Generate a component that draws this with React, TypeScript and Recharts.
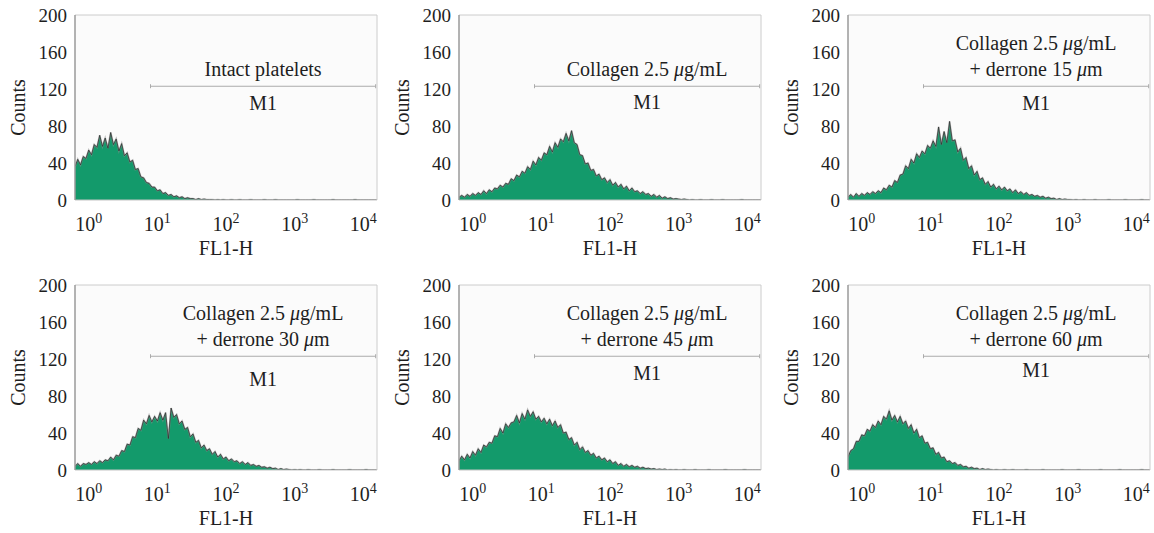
import React from "react";
import { AreaChart, Area, Line, XAxis, YAxis, CartesianGrid, ReferenceLine } from "recharts";

// FL1-H histograms, counts per channel (channel 0..110 across the log axis)
const intactCounts = [
  36, 44, 38, 47, 45, 54, 49, 60, 57, 70,
  58, 67, 56, 73, 60, 66, 53, 61, 48, 51,
  41, 43, 33, 34, 25, 24, 19, 18, 14, 14,
  10, 11, 7, 8, 5, 6, 3.5, 4.5, 2.5, 3.5,
  1.5, 2.5, 1.5, 1.5, 0.5, 1.5, 0.5, 1, 0.5, 0.5,
  0.5, 0, 0.5, 0, 0.5, 0, 0, 0.5, 0, 0,
  0.5, 0, 0, 0, 0.5, 0, 0, 0, 0, 0.5,
  0, 0, 0, 0.5, 0, 0, 0, 0, 0, 0,
  0, 0.5, 0, 0, 0, 0, 0, 0.5, 0, 0,
  0, 0, 0, 0, 0.5, 0, 0, 0, 0, 0,
  0, 0, 0.5, 0, 0, 0, 0, 0, 0, 0, 0,
];

const collagenCounts = [
  3, 5, 3, 6, 4, 7, 5, 8, 6, 10,
  7, 11, 9, 13, 12, 16, 14, 18, 17, 23,
  21, 27, 25, 31, 29, 36, 33, 42, 38, 46,
  43, 51, 49, 58, 52, 62, 57, 66, 63, 72,
  64, 75, 62, 60, 49, 48, 39, 40, 32, 33,
  26, 28, 22, 24, 19, 22, 16, 19, 14, 17,
  12, 15, 10, 13, 9, 10, 7, 9, 6, 7,
  4, 6, 3, 5, 2, 3.5, 1.5, 2.5, 1, 1.5,
  1, 0.5, 1, 0.5, 0, 0.5, 0, 0, 0.5, 0,
  0, 0, 0.5, 0, 0, 0, 0.5, 0, 0, 0,
  0, 0, 0, 0.5, 0, 0, 0, 0, 0, 0, 0,
];

const derrone15Counts = [
  3, 6, 3, 7, 4, 7, 5, 8, 6, 9,
  7, 10, 8, 13, 11, 16, 14, 21, 19, 27,
  28, 37, 34, 44, 40, 50, 46, 53, 50, 59,
  56, 64, 58, 79, 60, 74, 62, 85, 64, 65,
  52, 56, 43, 46, 34, 37, 27, 31, 22, 24,
  17, 20, 14, 17, 12, 15, 11, 14, 10, 12,
  8, 11, 7, 9, 6, 8, 5, 6, 4, 5,
  3, 4, 2, 3, 1.5, 2, 0.5, 1.5, 0.5, 1,
  0.5, 0.5, 0, 0.5, 0, 0, 0.5, 0, 0, 0,
  0.5, 0, 0, 0, 0, 0.5, 0, 0, 0, 0,
  0, 0.5, 0, 0, 0, 0, 0, 0.5, 0, 0, 0,
];

const derrone30Counts = [
  4, 7, 4, 7, 6, 8, 6, 9, 7, 10,
  8, 11, 10, 14, 11, 16, 15, 21, 20, 28,
  27, 36, 35, 45, 43, 54, 50, 59, 52, 58,
  53, 62, 54, 62, 34, 67, 57, 60, 50, 53,
  44, 46, 36, 39, 30, 32, 24, 27, 21, 23,
  17, 20, 14, 17, 12, 14, 10, 12, 9, 10,
  7, 9, 6, 8, 5, 6, 4, 5, 3, 3.5,
  2, 3, 1.5, 2, 0.5, 1.5, 0.5, 1, 0.5, 0,
  0.5, 0, 0.5, 0, 0, 0.5, 0, 0, 0, 0.5,
  0, 0, 0, 0, 0.5, 0, 0, 0, 0, 0,
  0.5, 0, 0, 0, 0, 0, 0.5, 0, 0, 0, 0,
];

const derrone45Counts = [
  10, 15, 11, 17, 13, 20, 16, 23, 19, 27,
  25, 30, 29, 37, 36, 45, 40, 50, 46, 51,
  52, 59, 51, 61, 55, 65, 58, 63, 55, 58,
  52, 56, 50, 55, 48, 53, 46, 49, 40, 41,
  33, 35, 27, 30, 22, 25, 19, 21, 16, 18,
  13, 15, 11, 13, 9, 11, 7, 9, 5, 7,
  4, 6, 3.5, 5, 3, 4, 2, 3, 1.5, 2,
  1, 1.5, 0.5, 1, 0.5, 1, 0, 0.5, 0, 0.5,
  0, 0, 0.5, 0, 0, 0, 0.5, 0, 0, 0,
  0, 0.5, 0, 0, 0, 0, 0, 0.5, 0, 0,
  0, 0, 0, 0, 0.5, 0, 0, 0, 0, 0, 0,
];

const derrone60Counts = [
  14, 21, 23, 31, 31, 38, 37, 44, 42, 49,
  46, 53, 49, 58, 55, 64, 54, 59, 52, 58,
  50, 53, 45, 49, 40, 44, 35, 37, 29, 30,
  23, 24, 17, 19, 13, 14, 9, 10, 7, 8,
  5, 6, 3.5, 4, 2, 3, 1.5, 2, 0.5, 1.5,
  0.5, 1, 0.5, 0, 0.5, 0, 0, 0.5, 0, 0,
  0.5, 0, 0, 0, 0, 0.5, 0, 0, 0, 0,
  0, 0.5, 0, 0, 0, 0, 0, 0, 0.5, 0,
  0, 0, 0, 0, 0.5, 0, 0, 0, 0, 0,
  0, 0, 0.5, 0, 0, 0, 0, 0, 0, 0.5,
  0, 0, 0, 0, 0, 0, 0, 0.5, 0, 0, 0,
];

const panelTitles = [
  ["Intact platelets"],
  ["Collagen 2.5 μg/mL"],
  ["Collagen 2.5 μg/mL", "+ derrone 15 μm"],
  ["Collagen 2.5 μg/mL", "+ derrone 30 μm"],
  ["Collagen 2.5 μg/mL", "+ derrone 45 μm"],
  ["Collagen 2.5 μg/mL", "+ derrone 60 μm"],
];
const panelCounts = [intactCounts, collagenCounts, derrone15Counts, derrone30Counts, derrone45Counts, derrone60Counts];

const yTicks = [0, 40, 80, 120, 160, 200];
const decadeTicks = [5, 30, 55, 80, 105];
const decadeExponents = ["0", "1", "2", "3", "4"];
const markerStart = 27.5;
const markerEnd = 109.5;
const markerLevel = 123;

const FONT = "Liberation Serif, Times New Roman, Tinos, DejaVu Serif, serif";
const GREEN = "#139a6b";
const TEXT = "#1e1e1e";

// panel placement on the page
const panelLayout = [
  { left: 0, top: 0, m1: 17 },
  { left: 384, top: 0, m1: 16 },
  { left: 773, top: 0, m1: 17 },
  { left: 0, top: 270, m1: 23 },
  { left: 384, top: 270, m1: 17 },
  { left: 773, top: 270, m1: 14 },
];

const txt = { fontFamily: FONT };

const richText = (s: string) =>
  s.split("μ").map((part, i) => (
    <React.Fragment key={i}>
      {i > 0 && <tspan fontStyle="italic">μ</tspan>}
      <tspan>{part}</tspan>
    </React.Fragment>
  ));

const DecadeTick = ({ x, y, payload }: any) => {
  const idx = decadeTicks.indexOf(payload.value);
  return (
    <text x={x} y={y + 23} textAnchor="middle" style={txt} fontSize={20} fill={TEXT}>
      <tspan>10</tspan>
      <tspan dy={-8} fontSize={14}>
        {decadeExponents[idx]}
      </tspan>
    </text>
  );
};

const markerShape = (titles: string[], m1Offset: number) => (p: any) => {
  const { x1, x2, y1 } = p;
  const cx = (x1 + x2) / 2;
  return (
    <g>
      {titles.map((t, i) => (
        <text
          key={i}
          x={cx}
          y={y1 - 10 - (titles.length - 1 - i) * 26}
          textAnchor="middle"
          style={txt}
          fontSize={20}
          fill={TEXT}
        >
          {richText(t)}
        </text>
      ))}
      <line x1={x1} y1={y1} x2={x2} y2={y1} stroke="#ababab" strokeWidth={1.2} />
      <line x1={x1} y1={y1 - 2} x2={x1} y2={y1 + 2} stroke="#ababab" />
      <line x1={x2} y1={y1 - 2} x2={x2} y2={y1 + 2} stroke="#ababab" />
      <text x={cx} y={y1 + m1Offset + 6.5} textAnchor="middle" style={txt} fontSize={20} fill={TEXT}>
        M1
      </text>
    </g>
  );
};

function Histogram({ idx }: { idx: number }) {
  const data = panelCounts[idx].map((c, ch) => ({ ch, count: c }));
  const titles = panelTitles[idx];
  const lay = panelLayout[idx];
  return (
    <div style={{ position: "absolute", left: lay.left, top: lay.top }}>
      <AreaChart width={385} height={265} data={data} margin={{ top: 15, right: 8, left: 0, bottom: 0 }}>
        <CartesianGrid horizontal={false} vertical={false} fill="#fbfbfb" />
        <XAxis
          dataKey="ch"
          type="number"
          domain={[0, 110]}
          ticks={decadeTicks}
          tick={<DecadeTick />}
          tickLine={false}
          axisLine={{ stroke: "#c4c4c4" }}
          height={65}
          allowDataOverflow
          label={{
            content: (lp: any) => {
              const vb = lp.viewBox;
              return (
                <text x={vb.x + vb.width / 2} y={vb.y + 55} textAnchor="middle" style={txt} fontSize={20} fill={TEXT}>
                  FL1-H
                </text>
              );
            },
          }}
        />
        <YAxis
          domain={[0, 200]}
          ticks={yTicks}
          width={75}
          tickLine={false}
          axisLine={{ stroke: "#9a9a9a", strokeWidth: 1.5 }}
          tick={{ style: txt, fontSize: 19, fill: TEXT }}
          allowDataOverflow
          label={{
            content: (lp: any) => {
              const vb = lp.viewBox;
              const cy = vb.y + vb.height / 2;
              return (
                <text
                  x={18}
                  y={cy}
                  transform={`rotate(-90, 18, ${cy})`}
                  textAnchor="middle"
                  dominantBaseline="central"
                  style={txt}
                  fontSize={20}
                  fill={TEXT}
                >
                  Counts
                </text>
              );
            },
          }}
        />
        <Area
          type="linear"
          dataKey="count"
          stroke="none"
          fill={GREEN}
          fillOpacity={1}
          dot={false}
          activeDot={false}
          isAnimationActive={false}
        />
        <Line
          type="linear"
          dataKey="count"
          stroke="#8c8c8c"
          strokeOpacity={0.55}
          strokeWidth={1.8}
          dot={false}
          activeDot={false}
          isAnimationActive={false}
        />
        <Line
          type="linear"
          dataKey="count"
          stroke="#262626"
          strokeWidth={0.7}
          dot={false}
          activeDot={false}
          isAnimationActive={false}
        />
        <ReferenceLine y={200} stroke="#cccccc" />
        <ReferenceLine x={110} stroke="#cccccc" />
        <ReferenceLine
          segment={[
            { x: markerStart, y: markerLevel },
            { x: markerEnd, y: markerLevel },
          ]}
          shape={markerShape(titles, lay.m1)}
        />
      </AreaChart>
    </div>
  );
}

export default function App() {
  return (
    <div style={{ position: "absolute", left: 0, top: 0, width: 1154, height: 533, background: "#fff" }}>
      {panelCounts.map((_, i) => (
        <Histogram key={i} idx={i} />
      ))}
    </div>
  );
}
